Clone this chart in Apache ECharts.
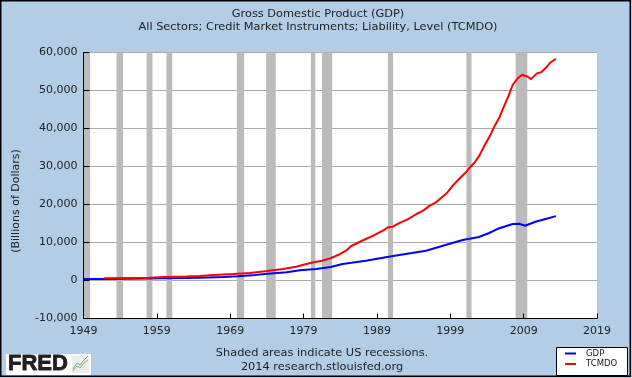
<!DOCTYPE html>
<html>
<head>
<meta charset="utf-8">
<style>
html,body{margin:0;padding:0;background:#fff;}
#chart{width:632px;height:378px;}
</style>
<script src="https://cdn.jsdelivr.net/npm/echarts@6/dist/echarts.min.js"></script>
</head>
<body>
<div id="chart"></div>
<script>
const baseYear = 1949;
const yTicks = [-10000, 0, 10000, 20000, 30000, 40000, 50000, 60000];
const recessionStart = [1949, 1953.5, 1957.6, 1960.3, 1969.9, 1973.9, 1980.0, 1981.5, 1990.5, 2001.2, 2007.9];
const recessionEnd = [1949.9, 1954.4, 1958.4, 1961.1, 1970.9, 1975.2, 1980.6, 1982.9, 1991.2, 2001.9, 2009.5];
const gdpYears = [1949, 1952, 1955, 1958, 1960, 1963, 1964.9, 1968, 1970, 1972, 1973.7, 1976.7, 1978.5, 1980.7, 1982.7, 1984.3, 1987.5, 1990.4, 1992.9, 1995.7, 1998.8, 2000.7, 2002.9, 2004.3, 2005.6, 2007.5, 2008.4, 2009.2, 2010.6, 2012, 2013.4];
const gdpValues = [380, 420, 450, 530, 570, 650, 740, 950, 1120, 1350, 1700, 2200, 2680, 3020, 3550, 4340, 5200, 6180, 6970, 7840, 9600, 10650, 11450, 12500, 13700, 14850, 14950, 14400, 15450, 16200, 16950];
const debtYears = [1951.75, 1955, 1958, 1960, 1963, 1964.9, 1966.7, 1969.4, 1971.7, 1974, 1976.2, 1978, 1979.9, 1981.5, 1982.6, 1983.7, 1984.9, 1985.5, 1986.9, 1988.5, 1989.8, 1990.5, 1991.2, 1991.9, 1993.3, 1994.4, 1995.3, 1996.2, 1997.1, 1998.5, 1999.4, 2000.3, 2001.1, 2001.75, 2002.3, 2003, 2003.7, 2004.4, 2005, 2005.75, 2006.2, 2006.9, 2007.5, 2008.2, 2008.8, 2009.5, 2010, 2010.8, 2011.4, 2012.1, 2012.6, 2013.4];
const debtValues = [620, 680, 740, 900, 1030, 1180, 1450, 1710, 1970, 2500, 3030, 3630, 4600, 5200, 5800, 6700, 8000, 9080, 10400, 11800, 13100, 14000, 14150, 14950, 16200, 17500, 18400, 19700, 20650, 22950, 25100, 26900, 28400, 29950, 31000, 33000, 35650, 38000, 40500, 43100, 45300, 48400, 51450, 53200, 54150, 53700, 53000, 54500, 54800, 56100, 57300, 58300];

const font = 'DejaVu Sans';
const textColor = '#222';
const pairs = (xs, ys) => xs.map((x, i) => [x - baseYear, ys[i]]);
const fmt = v => v.toLocaleString('en-US');
const titleStyle = {fontFamily: font, fontSize: 11.35, fontWeight: 'normal', color: textColor};

const chart = echarts.init(document.getElementById('chart'), null, {renderer: 'canvas'});
chart.setOption({
  animation: false,
  backgroundColor: '#B3CDE6',
  textStyle: {fontFamily: font},
  title: [
    {text: 'Gross Domestic Product (GDP)', left: 313, top: 4, textAlign: 'center', textStyle: titleStyle},
    {text: 'All Sectors; Credit Market Instruments; Liability, Level (TCMDO)', left: 313, top: 17, textAlign: 'center', textStyle: titleStyle},
    {text: 'Shaded areas indicate US recessions.', left: 317, top: 343, textAlign: 'center', textStyle: titleStyle},
    {text: '2014 research.stlouisfed.org', left: 317, top: 357, textAlign: 'center', textStyle: titleStyle}
  ],
  grid: {left: 83.5, top: 52.5, width: 513.5, height: 266, show: true, backgroundColor: '#fff', borderWidth: 0},
  legend: {
    data: ['GDP', 'TCMDO'], orient: 'vertical', left: 565, top: 349, z: 110,
    padding: 0, itemGap: 1.5, itemWidth: 11, itemHeight: 10,
    icon: 'path://M0 4H11V6H0Z',
    textStyle: {fontFamily: font, fontSize: 8.5, color: textColor, padding: [0, 0, 0, 5]}
  },
  xAxis: {
    type: 'value', min: 0, max: 70, interval: 10, z: 5,
    axisLine: {onZero: false, lineStyle: {color: '#000', width: 1}},
    axisTick: {inside: true, length: 5, lineStyle: {color: '#000'}},
    splitLine: {show: false},
    axisLabel: {formatter: v => String(v + baseYear), fontFamily: font, fontSize: 11, color: textColor, margin: 7, showMinLabel: true, showMaxLabel: true, hideOverlap: false}
  },
  yAxis: [
    {
      type: 'value', min: yTicks[0], max: yTicks[yTicks.length - 1], interval: 10000, z: 0,
      axisLine: {show: false}, axisTick: {show: false},
      splitLine: {show: true, lineStyle: {color: '#aaa', width: 1}},
      axisLabel: {formatter: fmt, fontFamily: font, fontSize: 11, color: textColor, margin: 6}
    },
    {
      type: 'value', position: 'left', min: yTicks[0], max: yTicks[yTicks.length - 1], interval: 10000, z: 5,
      axisLine: {show: true, onZero: false, lineStyle: {color: '#000', width: 1}},
      axisTick: {show: true, inside: true, length: 6, lineStyle: {color: '#000'}},
      splitLine: {show: false}, axisLabel: {show: false}
    }
  ],
  series: [
    {
      name: 'Recessions', type: 'line', data: [], z: 1, silent: true,
      markArea: {silent: true, itemStyle: {color: '#BBBBBB', opacity: 1},
        data: recessionStart.map((s, i) => [{xAxis: s - baseYear}, {xAxis: recessionEnd[i] - baseYear}])}
    },
    {name: 'GDP', type: 'line', data: pairs(gdpYears, gdpValues), z: 3, showSymbol: false, symbol: 'none', itemStyle: {color: '#0000FF'}, lineStyle: {color: '#0000FF', width: 2}},
    {name: 'TCMDO', type: 'line', data: pairs(debtYears, debtValues), z: 4, showSymbol: false, symbol: 'none', itemStyle: {color: '#FF0000'}, lineStyle: {color: '#FF0000', width: 2}}
  ],
  graphic: [
    {type: 'rect', z: 100, silent: true, shape: {x: 0.75, y: 0.75, width: 629.5, height: 375.5}, style: {fill: 'none', stroke: '#000', lineWidth: 1.5}},
    {type: 'rect', z: 100, silent: true, shape: {x: 556.5, y: 347.5, width: 71, height: 28}, style: {fill: '#fff', stroke: '#000', lineWidth: 1}},
    {type: 'text', z: 100, silent: true, rotation: Math.PI / 2, x: 16, y: 201, style: {text: '(Billions of Dollars)', align: 'center', verticalAlign: 'middle', fontFamily: font, fontSize: 11, fill: textColor}},
    {type: 'rect', z: 100, silent: true, shape: {x: 6, y: 354, width: 85, height: 21}, style: {fill: '#fff'}},
    {type: 'text', z: 101, silent: true, style: {x: 8, y: 353, text: 'FRED', fontFamily: 'Liberation Sans', fontWeight: 'bold', fontSize: 22, fill: '#231F20', stroke: '#231F20', lineWidth: 0.8}},
    {type: 'rect', z: 101, silent: true, shape: {x: 72, y: 356, width: 17, height: 17}, style: {fill: '#EDEDED'}},
    {type: 'polyline', z: 102, silent: true, shape: {points: [[73, 371], [77, 366], [80, 368], [84, 363], [88, 360]]}, style: {fill: 'none', stroke: '#8FAF6F', lineWidth: 1}},
    {type: 'polyline', z: 102, silent: true, shape: {points: [[73, 369], [77, 363], [80, 365], [84, 360], [88, 356]]}, style: {fill: 'none', stroke: '#7C98B8', lineWidth: 1}}
  ]
});
</script>
</body>
</html>
